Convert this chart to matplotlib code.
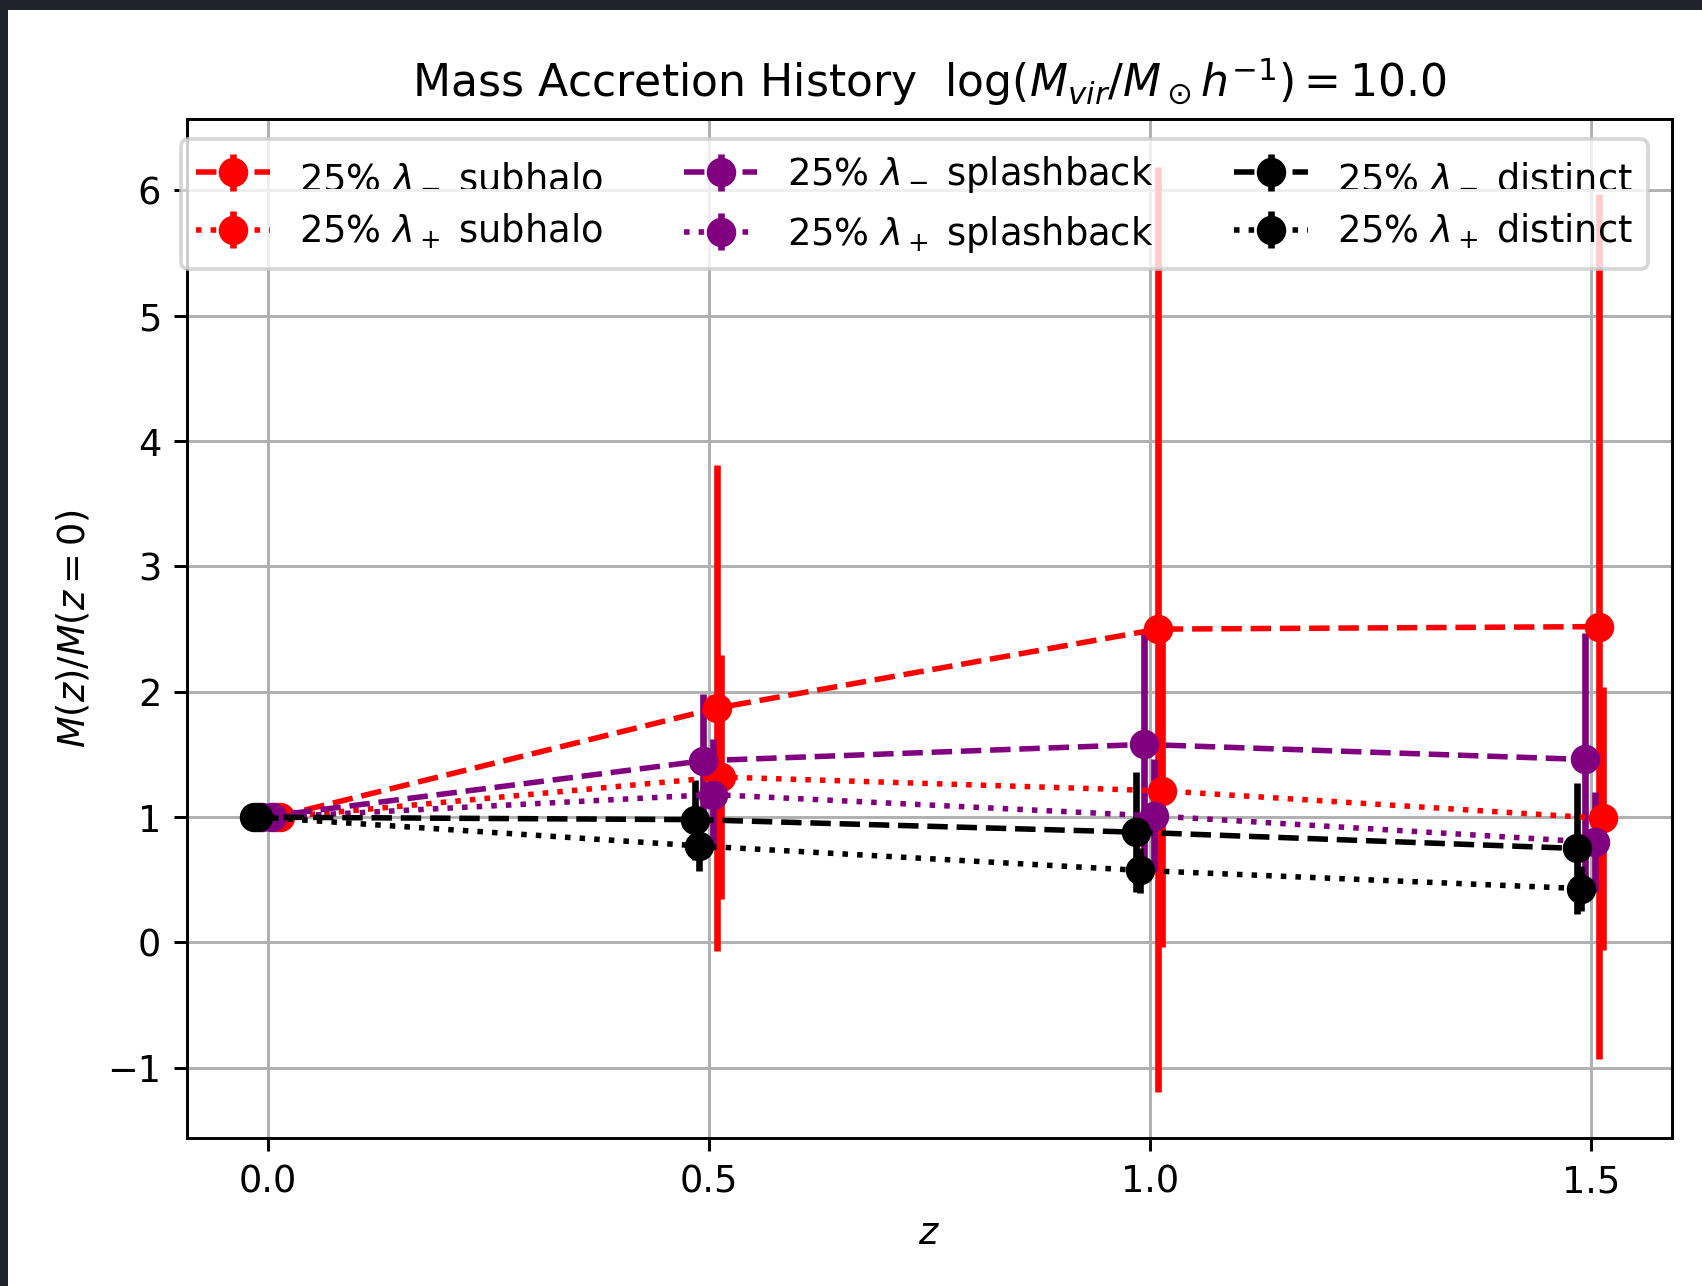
import numpy as np
import matplotlib
matplotlib.use("Agg")
import matplotlib.pyplot as plt
from matplotlib.patches import Rectangle

# redshift bins and per-sample values
z = np.array([0.0, 0.5, 1.0, 1.5])

sub_minus = [1.0, 1.87, 2.50, 2.52]
sub_minus_err = [0.0, 1.94, 3.69, 3.45]
sub_plus = [1.0, 1.32, 1.21, 0.99]
sub_plus_err = [0.0, 0.97, 1.25, 1.05]

spl_minus = [1.0, 1.45, 1.58, 1.46]
spl_minus_err = [0.0, 0.535, 0.90, 1.01]
spl_plus = [1.0, 1.18, 1.01, 0.80]
spl_plus_err = [0.0, 0.445, 0.45, 0.40]

dis_minus = [1.0, 0.98, 0.88, 0.75]
dis_minus_err = [0.0, 0.32, 0.48, 0.52]
dis_plus = [1.0, 0.77, 0.575, 0.43]
dis_plus_err = [0.0, 0.20, 0.18, 0.18]

# small horizontal shifts so the bars don't sit on top of each other
offsets = {"sub-": 0.009, "sub+": 0.014, "spl-": -0.0065,
           "spl+": 0.0045, "dis-": -0.0155, "dis+": -0.011}

DPI = 265
fig = plt.figure(figsize=(1702 / DPI, 1286 / DPI), dpi=DPI, facecolor="#20222c")
fig.patches.append(Rectangle((8 / 1702, 0), 1, 1 - 10 / 1286, transform=fig.transFigure,
                             facecolor="white", edgecolor="none", zorder=-10))
ax = fig.add_axes([187 / 1702, 1 - 1138 / 1286, (1672 - 187) / 1702, (1138 - 119) / 1286])

series = [
    ("sub-", sub_minus, sub_minus_err, "red", "--", r"25% $\lambda_-$ subhalo"),
    ("sub+", sub_plus, sub_plus_err, "red", ":", r"25% $\lambda_+$ subhalo"),
    ("spl-", spl_minus, spl_minus_err, "purple", "--", r"25% $\lambda_-$ splashback"),
    ("spl+", spl_plus, spl_plus_err, "purple", ":", r"25% $\lambda_+$ splashback"),
    ("dis-", dis_minus, dis_minus_err, "black", "--", r"25% $\lambda_-$ distinct"),
    ("dis+", dis_plus, dis_plus_err, "black", ":", r"25% $\lambda_+$ distinct"),
]

for key, y, err, col, ls, lbl in series:
    ax.errorbar(z + offsets[key], y, yerr=err, fmt="o", ls=ls, color=col,
                lw=1.5, elinewidth=1.8, markersize=7, label=lbl)

ax.set_xlim(-0.092, 1.592)
ax.set_ylim(-1.56, 6.57)
ax.set_xticks([0.0, 0.5, 1.0, 1.5])
ax.set_yticks(range(-1, 7))
ax.grid(True)
ax.set_axisbelow(True)

ax.set_xlabel(r"$z$", fontsize=10)
ax.set_ylabel(r"$M(z)/M(z=0)$", fontsize=10)
ax.set_title(r"Mass Accretion History  $\log(M_{vir}/M_\odot h^{-1}) = 10.0$", fontsize=12)

ax.legend(ncol=3, loc="upper left", bbox_to_anchor=(-0.0038, 0.980), borderaxespad=0,
          columnspacing=2.2)

fig.savefig("out.png", dpi=DPI, facecolor=fig.get_facecolor())
